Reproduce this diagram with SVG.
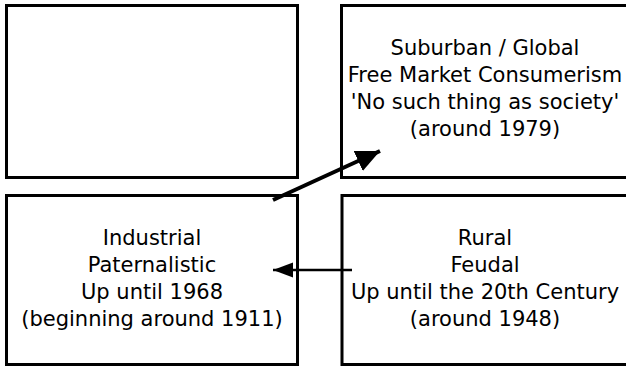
<svg xmlns="http://www.w3.org/2000/svg" width="626" height="368" viewBox="0 0 626 368">
<defs>
<style>
.box{fill:#fff;stroke:#000;stroke-width:3}
.lbl{font-family:"DejaVu Sans",Verdana,sans-serif;font-size:21px;fill:#000;text-anchor:middle}
.conn{stroke:#000;fill:none}
</style>
<marker id="ah1" markerUnits="userSpaceOnUse" markerWidth="26" markerHeight="24" refX="24" refY="11" orient="auto" viewBox="0 0 26 24">
<path d="M0,0 L24,11 L0,22 Z" fill="#000"/>
</marker>
<marker id="ah2" markerUnits="userSpaceOnUse" markerWidth="22" markerHeight="18" refX="20" refY="7.5" orient="auto" viewBox="0 0 22 18">
<path d="M0,0 L20,7.5 L0,15 Z" fill="#000"/>
</marker>
</defs>
<rect width="626" height="368" fill="#fff"/>
<g id="node-empty">
<rect class="box" x="6.5" y="5.5" width="291" height="172"/>
</g>
<g id="node-suburban">
<rect class="box" x="341.5" y="5.5" width="300" height="172"/>
<text class="lbl" x="485" y="55">Suburban / Global</text>
<text class="lbl" x="485" y="82">Free Market Consumerism</text>
<text class="lbl" x="485" y="109">'No such thing as society'</text>
<text class="lbl" x="485" y="136">(around 1979)</text>
</g>
<g id="node-industrial">
<rect class="box" x="6.5" y="195.5" width="291" height="169"/>
<text class="lbl" x="152" y="245">Industrial</text>
<text class="lbl" x="152" y="272">Paternalistic</text>
<text class="lbl" x="152" y="299">Up until 1968</text>
<text class="lbl" x="152" y="326">(beginning around 1911)</text>
</g>
<g id="node-rural">
<rect class="box" x="342" y="195.5" width="300" height="169"/>
<text class="lbl" x="485" y="245">Rural</text>
<text class="lbl" x="485" y="272">Feudal</text>
<text class="lbl" x="485" y="299">Up until the 20th Century</text>
<text class="lbl" x="485" y="326">(around 1948)</text>
</g>
<g id="connectors">
<path class="conn" d="M273,200 L380,151" stroke-width="4" marker-end="url(#ah1)"/>
<path class="conn" d="M352,270 L273,270" stroke-width="2.5" marker-end="url(#ah2)"/>
</g>
</svg>
